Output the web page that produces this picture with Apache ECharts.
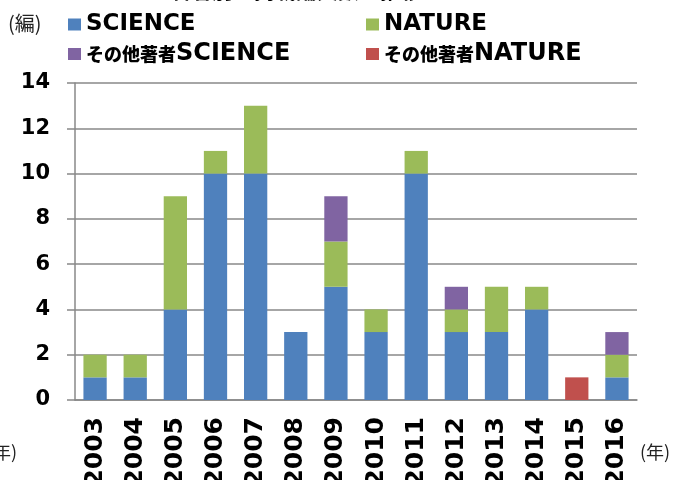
<!DOCTYPE html>
<html><head><meta charset="utf-8">
<script src="https://cdn.jsdelivr.net/npm/echarts@6/dist/echarts.min.js"></script>
<style>html,body{margin:0;padding:0;background:#fff}#c{width:678px;height:480px}</style>
</head><body><div id="c"></div>
<script>
const years = ['2003','2004','2005','2006','2007','2008','2009','2010','2011','2012','2013','2014','2015','2016'];
const science      = [1,1,4,10,10,3,5,3,10,3,3,4,0,1];
const nature       = [1,1,5,1,3,0,2,1,1,1,2,1,0,1];
const otherScience = [0,0,0,0,0,0,2,0,0,1,0,0,0,1];
const otherNature  = [0,0,0,0,0,0,0,0,0,0,0,0,1,0];
const seriesNames = ['SCIENCE','NATURE','その他著者SCIENCE','その他著者NATURE'];
const yTicks = {min:0, max:14, interval:2};

const colors = ['#4F81BD','#9BBB59','#8064A2','#C0504D'];
const font = '"DejaVu Sans","Noto Sans CJK JP",sans-serif';
const chart = echarts.init(document.getElementById('c'));
const nz = a => a.map(v => v === 0 ? null : v);
const legendFmt = n => n.startsWith('その他著者') ? '{j|その他著者}{w|' + n.slice(5) + '}' : '{l|' + n + '}';
const legendText = {
  color:'#000', fontWeight:'bold', fontFamily:font, fontSize:23,
  rich:{
    j:{fontFamily:'"Noto Sans CJK JP",sans-serif', fontWeight:900, fontSize:18, color:'#000', lineHeight:26},
    l:{fontFamily:font, fontWeight:'bold', fontSize:23, color:'#000', lineHeight:26},
    w:{fontFamily:font, fontWeight:'bold', fontSize:24, color:'#000', lineHeight:26}
  }
};
const legendBase = {orient:'vertical', top:13, itemWidth:13, itemHeight:12, itemGap:6, icon:'rect',
  formatter:legendFmt, textStyle:legendText, selectedMode:false, padding:0};
chart.setOption({
  animation:false,
  title:{text:'著者別の掲載論文数の推移', left:291, textAlign:'center', top:-25,
    textStyle:{fontFamily:'"Noto Sans CJK JP",sans-serif', fontWeight:'bold', fontSize:21, color:'#000'}},
  color:colors,
  legend:[
    Object.assign({}, legendBase, {left:68, data:[seriesNames[0], seriesNames[2]]}),
    Object.assign({}, legendBase, {left:366, data:[seriesNames[1], seriesNames[3]]})
  ],
  grid:{left:75, right:41, top:83, bottom:80, containLabel:false, outerBoundsMode:'none'},
  xAxis:{type:'category', data:years,
    axisLine:{lineStyle:{color:'#888', width:1.5}},
    axisTick:{length:8, lineStyle:{color:'#888', width:1.5}},
    axisLabel:{rotate:90, margin:17, fontFamily:font, fontWeight:'bold', fontSize:25, color:'#000'}},
  yAxis:{type:'value', min:yTicks.min, max:yTicks.max, interval:yTicks.interval,
    axisLine:{show:true, lineStyle:{color:'#888', width:1.5}},
    axisTick:{show:true, length:8, lineStyle:{color:'#888', width:1.5}},
    splitLine:{lineStyle:{color:'#888', width:1.5}},
    axisLabel:{margin:25, fontFamily:font, fontWeight:'bold', fontSize:21, color:'#000'}},
  graphic:[
    {type:'text', left:8, top:13, style:{text:'(編)', font:'20px "Noto Sans CJK JP",sans-serif', fill:'#222'}},
    {type:'text', x:17, y:452, style:{text:'(年)', font:'18px "Noto Sans CJK JP",sans-serif', fill:'#222', align:'right', verticalAlign:'middle'}},
    {type:'text', x:640, y:452, style:{text:'(年)', font:'18px "Noto Sans CJK JP",sans-serif', fill:'#222', align:'left', verticalAlign:'middle'}}
  ],
  series:[
    {name:seriesNames[0], type:'bar', stack:'a', barWidth:'58%', data:nz(science)},
    {name:seriesNames[1], type:'bar', stack:'a', data:nz(nature)},
    {name:seriesNames[2], type:'bar', stack:'a', data:nz(otherScience)},
    {name:seriesNames[3], type:'bar', stack:'a', data:nz(otherNature)}
  ]
});
</script></body></html>
